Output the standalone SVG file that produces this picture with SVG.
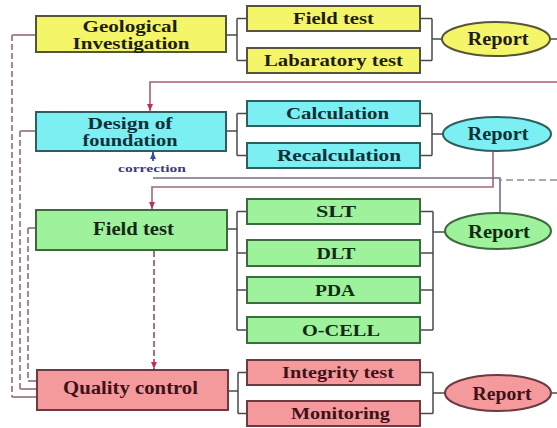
<svg xmlns="http://www.w3.org/2000/svg" width="557" height="428" viewBox="0 0 557 428">
<style>
text{font-family:"Liberation Serif","Times New Roman",serif;font-weight:bold;text-anchor:middle}
.m{font-size:18px}
.m2{font-size:16px}
.s{font-size:17px}
.r{font-size:18px}
.y{fill:#f5f56a;stroke:#55553a;stroke-width:2}
.c{fill:#7ceff2;stroke:#2f5e60;stroke-width:2}
.g{fill:#9ef29c;stroke:#3d6a3f;stroke-width:2}
.p{fill:#f49a9c;stroke:#6c3a40;stroke-width:2}
.ty{fill:#1e1e10}
.tc{fill:#0f3038}
.tg{fill:#142a16}
.tp{fill:#3e1218}
.br{fill:none;stroke:#4a4a4a;stroke-width:1.5}
.dl{fill:none;stroke:#a07a88;stroke-width:1.8;stroke-dasharray:6 3}
.hl{fill:none;stroke:#a07a88;stroke-width:1.8}
</style>
<defs>
<marker id="ar" markerWidth="8" markerHeight="8" refX="7" refY="4" orient="auto" markerUnits="userSpaceOnUse">
<path d="M0,1 L7,4 L0,7 Z" fill="#c03050"/>
</marker>
<marker id="ab" markerWidth="8" markerHeight="8" refX="7" refY="4" orient="auto" markerUnits="userSpaceOnUse">
<path d="M0,1 L7,4 L0,7 Z" fill="#3050a0"/>
</marker>
</defs>

<g id="connectors">
<polyline class="hl" points="36,35 12,35"/>
<polyline class="dl" points="12,35 12,397"/>
<polyline class="hl" points="12,397 37,397"/>
<polyline class="hl" points="36,131 20,131"/>
<polyline class="dl" points="20,131 20,389"/>
<polyline class="hl" points="20,389 37,389"/>
<polyline class="hl" points="36,228 28,228"/>
<polyline class="dl" points="28,228 28,381"/>
<polyline class="hl" points="28,381 37,381"/>

<path class="br" d="M226,35 H237 M237,18.5 V60.5 M237,18.5 H247 M237,60.5 H247"/>
<path class="br" d="M420,18.5 H432 M420,60.5 H432 M432,18.5 V60.5 M432,39 H442"/>
<path class="br" d="M550,39 H557"/>
<path class="br" d="M226,131 H237 M237,113.5 V155.5 M237,113.5 H247 M237,155.5 H247"/>
<path class="br" d="M420,113.5 H432 M420,155.5 H432 M432,113.5 V155.5 M432,134 H443"/>
<path class="br" d="M227,229 H237 M237,211.5 V330 M237,211.5 H247 M237,253 H247 M237,290 H247 M237,330 H247"/>
<path class="br" d="M420,211.5 H433 M420,253 H433 M420,290 H433 M420,330 H433 M433,211.5 V330 M433,232 H445"/>
<path class="br" d="M228,391 H238 M238,372.5 V413.5 M238,372.5 H247 M238,413.5 H247"/>
<path class="br" d="M420,372.5 H433 M420,413.5 H433 M433,372.5 V413.5 M433,393 H445"/>
<path class="br" d="M552,393 H557"/>

<path d="M557,82 H150 V111" fill="none" stroke="#a86070" stroke-width="1.6" marker-end="url(#ar)"/>
<path d="M493,152 V187 H152 V209" fill="none" stroke="#a06878" stroke-width="1.6" marker-end="url(#ar)"/>
<path d="M500,213 V178 H153" fill="none" stroke="#7a6a8e" stroke-width="1.6"/>
<path d="M557,180 H500" fill="none" stroke="#8a8aa0" stroke-width="1.6" stroke-dasharray="7 4"/>
<path d="M153,161 V152" fill="none" stroke="#3050a0" stroke-width="1.8" marker-end="url(#ab)"/>
<text x="152" y="172" style="font-size:11px;fill:#3a3a88" textLength="68" lengthAdjust="spacingAndGlyphs">correction</text>
<path d="M154,251 V369" fill="none" stroke="#a06070" stroke-width="1.8" stroke-dasharray="6 3" marker-end="url(#ar)"/>
</g>

<g id="geo">
<rect class="y" x="36" y="16" width="190" height="36"/>
<text class="m2 ty" x="130" y="32" textLength="95" lengthAdjust="spacingAndGlyphs">Geological</text>
<text class="m2 ty" x="131" y="49" textLength="117" lengthAdjust="spacingAndGlyphs">Investigation</text>
</g>
<g id="geo-field"><rect class="y" x="247" y="6" width="173" height="25"/><text class="s ty" x="333.5" y="24" textLength="81" lengthAdjust="spacingAndGlyphs">Field test</text></g>
<g id="geo-lab"><rect class="y" x="247" y="48" width="173" height="25"/><text class="s ty" x="333.5" y="66" textLength="139" lengthAdjust="spacingAndGlyphs">Labaratory test</text></g>
<g id="geo-report"><ellipse class="y" cx="496" cy="39" rx="54" ry="17"/><text class="r ty" x="498" y="45" textLength="61" lengthAdjust="spacingAndGlyphs">Report</text></g>

<g id="design">
<rect class="c" x="36" y="112" width="190" height="39"/>
<text class="m2 tc" x="130" y="129" textLength="85" lengthAdjust="spacingAndGlyphs">Design of</text>
<text class="m2 tc" x="130" y="146" textLength="95" lengthAdjust="spacingAndGlyphs">foundation</text>
</g>
<g id="design-calc"><rect class="c" x="247" y="101" width="173" height="25"/><text class="s tc" x="337.5" y="119" textLength="103" lengthAdjust="spacingAndGlyphs">Calculation</text></g>
<g id="design-recalc"><rect class="c" x="247" y="143" width="173" height="25"/><text class="s tc" x="339" y="161" textLength="124" lengthAdjust="spacingAndGlyphs">Recalculation</text></g>
<g id="design-report"><ellipse class="c" cx="497" cy="134" rx="54" ry="17"/><text class="r tc" x="498" y="140" textLength="61" lengthAdjust="spacingAndGlyphs">Report</text></g>

<g id="fieldtest">
<rect class="g" x="36" y="210" width="191" height="40"/>
<text class="m tg" x="133.5" y="235" textLength="81" lengthAdjust="spacingAndGlyphs">Field test</text>
</g>
<g id="ft-slt"><rect class="g" x="247" y="199" width="173" height="25"/><text class="s tg" x="336" y="217" textLength="40" lengthAdjust="spacingAndGlyphs">SLT</text></g>
<g id="ft-dlt"><rect class="g" x="247" y="240" width="173" height="26"/><text class="s tg" x="336" y="259" textLength="39" lengthAdjust="spacingAndGlyphs">DLT</text></g>
<g id="ft-pda"><rect class="g" x="247" y="277" width="173" height="26"/><text class="s tg" x="335" y="296" textLength="40" lengthAdjust="spacingAndGlyphs">PDA</text></g>
<g id="ft-ocell"><rect class="g" x="247" y="317" width="173" height="26"/><text class="s tg" x="341" y="336" textLength="78" lengthAdjust="spacingAndGlyphs">O-CELL</text></g>
<g id="ft-report"><ellipse class="g" cx="498" cy="231" rx="53" ry="18"/><text class="r tg" x="499" y="238" textLength="62" lengthAdjust="spacingAndGlyphs">Report</text></g>

<g id="qc">
<rect class="p" x="37" y="370" width="191" height="40"/>
<text class="m tp" x="130.5" y="394" textLength="135" lengthAdjust="spacingAndGlyphs">Quality control</text>
</g>
<g id="qc-integrity"><rect class="p" x="247" y="360" width="173" height="25"/><text class="s tp" x="338" y="378" textLength="112" lengthAdjust="spacingAndGlyphs">Integrity test</text></g>
<g id="qc-monitoring"><rect class="p" x="247" y="401" width="173" height="25"/><text class="s tp" x="340.5" y="419" textLength="99" lengthAdjust="spacingAndGlyphs">Monitoring</text></g>
<g id="qc-report"><ellipse class="p" cx="498" cy="393" rx="53" ry="18"/><text class="r tp" x="502" y="400" textLength="59" lengthAdjust="spacingAndGlyphs">Report</text></g>
</svg>
